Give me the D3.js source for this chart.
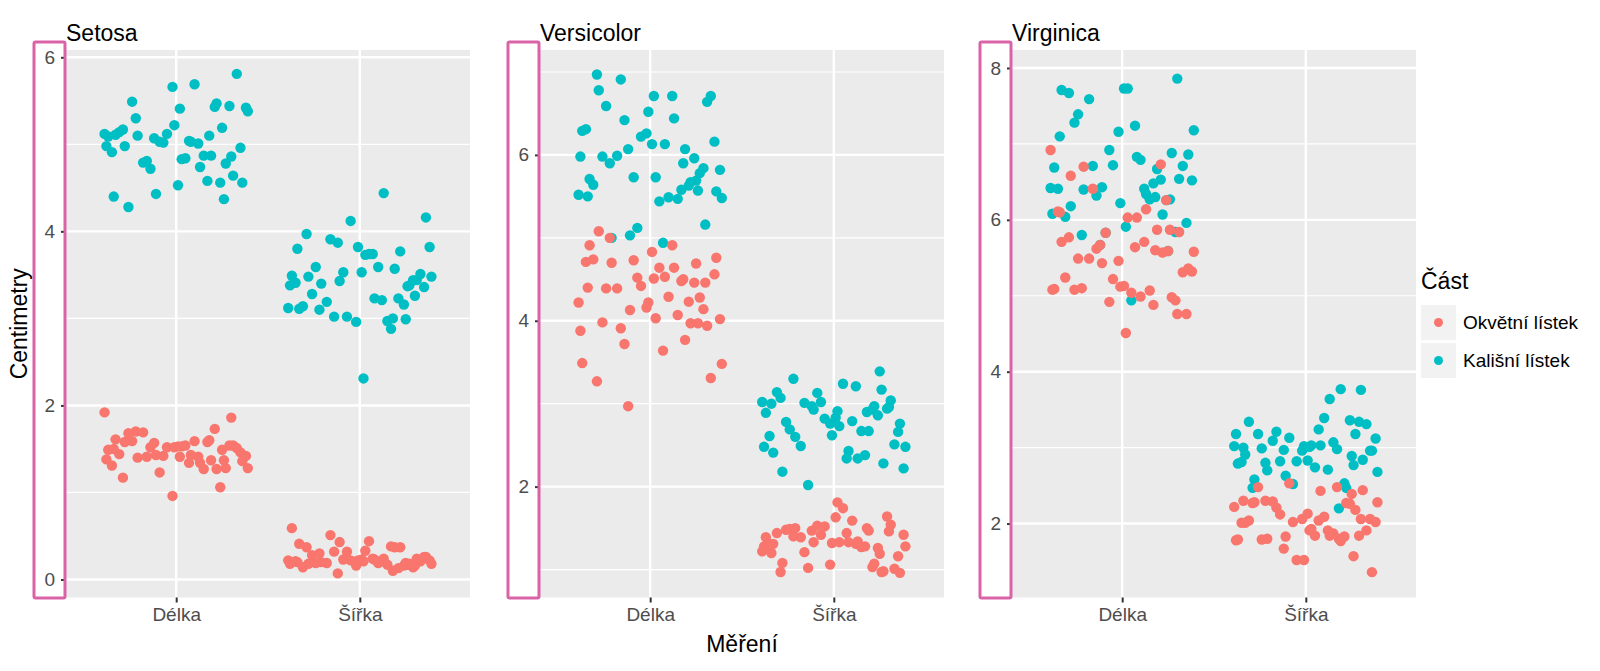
<!DOCTYPE html>
<html>
<head>
<meta charset="utf-8">
<script src="https://cdn.jsdelivr.net/npm/d3@7"></script>
<style>
  body { margin: 0; background: #fff; }
  svg { font-family: "Liberation Sans", Arial, sans-serif; }
</style>
</head>
<body>
<div id="chart"></div>
<script>
// iris values, one array per species / part / measure (50 flowers each)
const species = ["Setosa", "Versicolor", "Virginica"];
const measures = ["Délka", "Šířka"];
const parts = ["Okvětní lístek", "Kališní lístek"];

const setosaSepalLength = [5.1,4.9,4.7,4.6,5.0,5.4,4.6,5.0,4.4,4.9,5.4,4.8,4.8,4.3,5.8,5.7,5.4,5.1,5.7,5.1,5.4,5.1,4.6,5.1,4.8,5.0,5.0,5.2,5.2,4.7,4.8,5.4,5.2,5.5,4.9,5.0,5.5,4.9,4.4,5.1,5.0,4.5,4.4,5.0,5.1,4.8,5.1,4.6,5.3,5.0];
const setosaSepalWidth = [3.5,3.0,3.2,3.1,3.6,3.9,3.4,3.4,2.9,3.1,3.7,3.4,3.0,3.0,4.0,4.4,3.9,3.5,3.8,3.8,3.4,3.7,3.6,3.3,3.4,3.0,3.4,3.5,3.4,3.2,3.1,3.4,4.1,4.2,3.1,3.2,3.5,3.6,3.0,3.4,3.5,2.3,3.2,3.5,3.8,3.0,3.8,3.2,3.7,3.3];
const setosaPetalLength = [1.4,1.4,1.3,1.5,1.4,1.7,1.4,1.5,1.4,1.5,1.5,1.6,1.4,1.1,1.2,1.5,1.3,1.4,1.7,1.5,1.7,1.5,1.0,1.7,1.9,1.6,1.6,1.5,1.4,1.6,1.6,1.5,1.5,1.4,1.5,1.2,1.3,1.4,1.3,1.5,1.3,1.3,1.3,1.6,1.9,1.4,1.6,1.4,1.5,1.4];
const setosaPetalWidth = [0.2,0.2,0.2,0.2,0.2,0.4,0.3,0.2,0.2,0.1,0.2,0.2,0.1,0.1,0.2,0.4,0.4,0.3,0.3,0.3,0.2,0.4,0.2,0.5,0.2,0.2,0.4,0.2,0.2,0.2,0.2,0.4,0.1,0.2,0.2,0.2,0.2,0.1,0.2,0.2,0.3,0.3,0.2,0.6,0.4,0.3,0.2,0.2,0.2,0.2];

const versicolorSepalLength = [7.0,6.4,6.9,5.5,6.5,5.7,6.3,4.9,6.6,5.2,5.0,5.9,6.0,6.1,5.6,6.7,5.6,5.8,6.2,5.6,5.9,6.1,6.3,6.1,6.4,6.6,6.8,6.7,6.0,5.7,5.5,5.5,5.8,6.0,5.4,6.0,6.7,6.3,5.6,5.5,5.5,6.1,5.8,5.0,5.6,5.7,5.7,6.2,5.1,5.7];
const versicolorSepalWidth = [3.2,3.2,3.1,2.3,2.8,2.8,3.3,2.4,2.9,2.7,2.0,3.0,2.2,2.9,2.9,3.1,3.0,2.7,2.2,2.5,3.2,2.8,2.5,2.8,2.9,3.0,2.8,3.0,2.9,2.6,2.4,2.4,2.7,2.7,3.0,3.4,3.1,2.3,3.0,2.5,2.6,3.0,2.6,2.3,2.7,3.0,2.9,2.9,2.5,2.8];
const versicolorPetalLength = [4.7,4.5,4.9,4.0,4.6,4.5,4.7,3.3,4.6,3.9,3.5,4.2,4.0,4.7,3.6,4.4,4.5,4.1,4.5,3.9,4.8,4.0,4.9,4.7,4.3,4.4,4.8,5.0,4.5,3.5,3.8,3.7,3.9,5.1,4.5,4.5,4.7,4.4,4.1,4.0,4.4,4.6,4.0,3.3,4.2,4.2,4.2,4.3,3.0,4.1];
const versicolorPetalWidth = [1.4,1.5,1.5,1.3,1.5,1.3,1.6,1.0,1.3,1.4,1.0,1.5,1.0,1.4,1.3,1.4,1.5,1.0,1.5,1.1,1.8,1.3,1.5,1.2,1.3,1.4,1.4,1.7,1.5,1.0,1.1,1.0,1.2,1.6,1.5,1.6,1.5,1.3,1.3,1.3,1.2,1.4,1.2,1.0,1.3,1.2,1.3,1.3,1.1,1.3];

const virginicaSepalLength = [6.3,5.8,7.1,6.3,6.5,7.6,4.9,7.3,6.7,7.2,6.5,6.4,6.8,5.7,5.8,6.4,6.5,7.7,7.7,6.0,6.9,5.6,7.7,6.3,6.7,7.2,6.2,6.1,6.4,7.2,7.4,7.9,6.4,6.3,6.1,7.7,6.3,6.4,6.0,6.9,6.7,6.9,5.8,6.8,6.7,6.7,6.3,6.5,6.2,5.9];
const virginicaSepalWidth = [3.3,2.7,3.0,2.9,3.0,3.0,2.5,2.9,2.5,3.6,3.2,2.7,3.0,2.5,2.8,3.2,3.0,3.8,2.6,2.2,3.2,2.8,2.8,2.7,3.3,3.2,2.8,3.0,2.8,3.0,2.8,3.8,2.8,2.8,2.6,3.0,3.4,3.1,3.0,3.1,3.1,3.1,2.7,3.2,3.3,3.0,2.5,3.0,3.4,3.0];
const virginicaPetalLength = [6.0,5.1,5.9,5.6,5.8,6.6,4.5,6.3,5.8,6.1,5.1,5.3,5.5,5.0,5.1,5.3,5.5,6.7,6.9,5.0,5.7,4.9,6.7,4.9,5.7,6.0,4.8,4.9,5.6,5.8,6.1,6.4,5.6,5.1,5.6,6.1,5.6,5.5,4.8,5.4,5.6,5.1,5.1,5.9,5.7,5.2,5.0,5.2,5.4,5.1];
const virginicaPetalWidth = [2.5,1.9,2.1,1.8,2.2,2.1,1.7,1.8,1.8,2.5,2.0,1.9,2.1,2.0,2.4,2.3,1.8,2.2,2.3,1.5,2.3,2.0,2.0,1.8,2.1,1.8,1.8,1.8,2.1,1.6,1.9,2.0,2.2,1.5,1.4,2.3,2.4,1.8,1.8,2.1,2.4,2.3,1.9,2.3,2.5,2.3,1.9,2.0,2.3,1.8];

// fixed jitter offsets (x in category steps, y in cm)
const jitterX = [0.12,-0.31,0.27,-0.05,0.36,-0.22,0.08,-0.37,0.19,-0.14,0.31,-0.28,0.02,0.24,-0.09,-0.34,0.15,0.38,-0.18,0.05,-0.26,0.33,-0.02,0.21,-0.39,0.10,-0.12,0.29,-0.21,0.17,-0.33,0.03,0.35,-0.07,0.25,-0.29,0.13,-0.16,0.39,-0.01,0.22,-0.35,0.07,-0.24,0.30,-0.11,0.18,-0.38,0.01,0.26];
const jitterY = [0.02,-0.03,0.01,0.04,-0.01,-0.04,0.03,0.00,-0.02,0.03,-0.03,0.01,0.04,-0.02,0.02,-0.04,0.00,0.03,-0.01,-0.03,0.02,0.04,-0.02,0.01,-0.04,0.03,0.00,-0.03,0.02,-0.01,0.04,-0.02,0.01,-0.04,0.03,0.02,-0.01,-0.03,0.04,0.00,-0.02,0.01,0.03,-0.04,0.02,-0.01,-0.03,0.04,0.01,-0.02];

// free y scales per facet
const yDomains = [[-0.207, 6.084], [0.663, 7.265], [1.026, 8.237]];
const yMajor = [[0, 2, 4, 6], [2, 4, 6], [2, 4, 6, 8]];
const yMinor = [[1, 3, 5], [1, 3, 5, 7], [3, 5, 7]];

// [species][part][measure]
const values = [
  [[setosaPetalLength, setosaPetalWidth], [setosaSepalLength, setosaSepalWidth]],
  [[versicolorPetalLength, versicolorPetalWidth], [versicolorSepalLength, versicolorSepalWidth]],
  [[virginicaPetalLength, virginicaPetalWidth], [virginicaSepalLength, virginicaSepalWidth]]
];

const colors = d3.scaleOrdinal().domain(parts).range(["#F8766D", "#00BFC4"]);

const width = 1600, height = 671;
const panelLeft = [66, 540, 1012];
const panelW = 404, panelTop = 50, panelBottom = 597.5;

const svg = d3.select("#chart").append("svg")
    .attr("width", width)
    .attr("height", height);

svg.append("rect").attr("width", width).attr("height", height).attr("fill", "#fff");

species.forEach((sp, s) => {
    const x0 = panelLeft[s];
    const x = d3.scalePoint().domain(measures).range([x0, x0 + panelW]).padding(0.6);
    const y = d3.scaleLinear().domain(yDomains[s]).range([panelBottom, panelTop]);
    const g = svg.append("g");

    // panel background
    g.append("rect")
        .attr("x", x0).attr("y", panelTop)
        .attr("width", panelW).attr("height", panelBottom - panelTop)
        .attr("fill", "#EBEBEB");

    // grid
    g.selectAll(".minor").data(yMinor[s]).enter().append("line")
        .attr("x1", x0).attr("x2", x0 + panelW)
        .attr("y1", d => y(d)).attr("y2", d => y(d))
        .attr("stroke", "#fff").attr("stroke-width", 1.2);
    g.selectAll(".major").data(yMajor[s]).enter().append("line")
        .attr("x1", x0).attr("x2", x0 + panelW)
        .attr("y1", d => y(d)).attr("y2", d => y(d))
        .attr("stroke", "#fff").attr("stroke-width", 2.4);
    g.selectAll(".vgrid").data(measures).enter().append("line")
        .attr("x1", d => x(d)).attr("x2", d => x(d))
        .attr("y1", panelTop).attr("y2", panelBottom)
        .attr("stroke", "#fff").attr("stroke-width", 2.4);

    // points, sepal first then petal on top
    [1, 0].forEach(p => {
        measures.forEach((m, mi) => {
            const k = s * 4 + mi * 2 + p;
            const pts = values[s][p][mi].map((v, i) => {
                const j = (i + 7 * k) % 50;
                return {m: m, v: v + jitterY[(j + 11) % 50], dx: jitterX[j]};
            });
            g.selectAll(null).data(pts).enter().append("circle")
                .attr("cx", d => x(d.m) + d.dx * x.step())
                .attr("cy", d => y(d.v))
                .attr("r", 5.2)
                .attr("fill", colors(parts[p]));
        });
    });

    // axes
    const yAxis = g.append("g")
        .attr("transform", `translate(${x0},0)`)
        .call(d3.axisLeft(y).tickValues(yMajor[s]).tickFormat(d3.format("d")).tickSize(5).tickPadding(6));
    const xAxis = g.append("g")
        .attr("transform", `translate(0,${panelBottom})`)
        .call(d3.axisBottom(x).tickSize(5).tickPadding(5));
    [yAxis, xAxis].forEach(a => {
        a.select(".domain").remove();
        a.selectAll(".tick line").attr("stroke", "#333").attr("stroke-width", 2);
        a.selectAll(".tick text")
            .attr("fill", "#4D4D4D")
            .style("font-size", "19px")
            .style("font-family", "'Liberation Sans', Arial, sans-serif");
    });

    // facet title
    g.append("text")
        .attr("x", x0).attr("y", 41)
        .style("font-size", "23px")
        .attr("fill", "#000")
        .text(sp);

    // highlight box round the y tick labels
    g.append("rect")
        .attr("x", x0 - 32).attr("y", 42)
        .attr("width", 31).attr("height", 556)
        .attr("rx", 1.5)
        .attr("fill", "none")
        .attr("stroke", "#DA62A6")
        .attr("stroke-width", 3);
});

// axis titles
svg.append("text")
    .attr("x", (panelLeft[1] + panelLeft[1] + panelW) / 2).attr("y", 652)
    .attr("text-anchor", "middle")
    .style("font-size", "23px")
    .text("Měření");

svg.append("text")
    .attr("transform", `translate(27,${(panelTop + panelBottom) / 2}) rotate(-90)`)
    .attr("text-anchor", "middle")
    .style("font-size", "23px")
    .text("Centimetry");

// legend
const legend = svg.append("g").attr("transform", "translate(1421,0)");
legend.append("text")
    .attr("x", 0).attr("y", 289)
    .style("font-size", "23px")
    .text("Část");

const keys = legend.selectAll(".key").data(parts).enter().append("g")
    .attr("transform", (d, i) => `translate(0,${305 + i * 38})`);
keys.append("rect")
    .attr("width", 35).attr("height", 35)
    .attr("fill", "#F2F2F2");
keys.append("circle")
    .attr("cx", 17.5).attr("cy", 17.5).attr("r", 4.5)
    .attr("fill", d => colors(d));
keys.append("text")
    .attr("x", 42).attr("y", 17.5)
    .attr("dy", "0.35em")
    .style("font-size", "19px")
    .text(d => d);
</script>
</body>
</html>
